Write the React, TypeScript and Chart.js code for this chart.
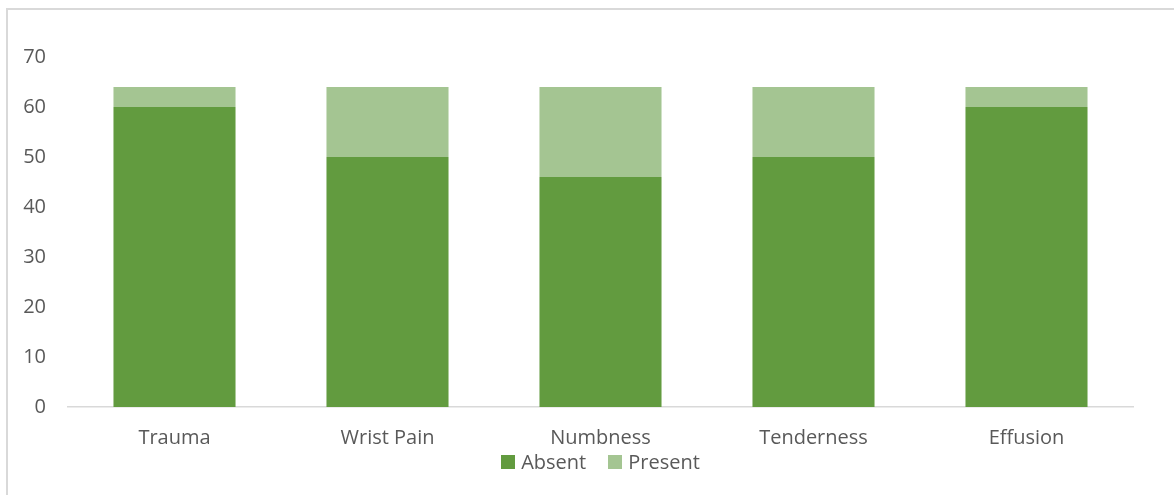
import React, { useEffect, useRef } from "react";
import { Chart, registerables } from "chart.js";

Chart.register(...registerables);

const categories = ["Trauma", "Wrist Pain", "Numbness", "Tenderness", "Effusion"];
const absentValues = [60, 50, 46, 50, 60];
const presentValues = [4, 14, 18, 14, 4];
const yTicks = [0, 10, 20, 30, 40, 50, 60, 70];

const fontFamily = "'Open Sans', 'Noto Sans', sans-serif";

const bottomLegend = {
  id: "bottomLegend",
  afterDraw(chart: any) {
    const { ctx, chartArea } = chart;
    const datasets = chart.data.datasets;
    ctx.save();
    ctx.font = `20px ${fontFamily}`;
    ctx.textBaseline = "middle";
    ctx.textAlign = "left";
    const box = 14;
    const gapText = 6;
    const gapItem = 22;
    const widths = datasets.map((d: any) => ctx.measureText(d.label).width);
    let total = 0;
    widths.forEach((w: number, i: number) => {
      total += box + gapText + w + (i < widths.length - 1 ? gapItem : 0);
    });
    let x = (chartArea.left + chartArea.right) / 2 - total / 2;
    const cy = chartArea.bottom + 55;
    datasets.forEach((d: any, i: number) => {
      ctx.fillStyle = d.backgroundColor;
      ctx.fillRect(Math.round(x), Math.round(cy - box / 2), box, box);
      x += box + gapText;
      ctx.fillStyle = "#595959";
      ctx.fillText(d.label, x, cy + 1);
      x += widths[i] + gapItem;
    });
    ctx.restore();
  },
};

export default function App() {
  const ref = useRef<HTMLCanvasElement | null>(null);

  useEffect(() => {
    document.body.style.margin = "0";
    const ctx = ref.current;
    if (!ctx) return;
    const chart = new Chart(ctx, {
      type: "bar",
      data: {
        labels: categories,
        datasets: [
          {
            label: "Absent",
            data: absentValues,
            backgroundColor: "#629B3F",
            borderWidth: 0,
          },
          {
            label: "Present",
            data: presentValues,
            backgroundColor: "#A4C592",
            borderWidth: 0,
          },
        ],
      },
      plugins: [bottomLegend],
      options: {
        responsive: false,
        animation: false,
        devicePixelRatio: 1,
        layout: { padding: { top: 57, right: 41, left: 0, bottom: 26 } },
        datasets: { bar: { categoryPercentage: 1, barPercentage: 0.573 } },
        plugins: {
          legend: { display: false },
          tooltip: { enabled: false },
        },
        scales: {
          x: {
            stacked: true,
            grid: { display: false, drawTicks: false },
            border: { display: true, color: "#D9D9D9", width: 1.5 },
            ticks: {
              color: "#595959",
              padding: 19,
              font: { family: fontFamily, size: 20 },
            },
          },
          y: {
            stacked: true,
            min: 0,
            max: 70,
            afterFit: (scale: any) => {
              scale.width = 68;
            },
            afterBuildTicks: (scale: any) => {
              scale.ticks = yTicks.map((v) => ({ value: v }));
            },
            grid: { display: false, drawTicks: false },
            border: { display: false },
            ticks: {
              color: "#595959",
              padding: 22,
              font: { family: fontFamily, size: 20 },
            },
          },
        },
      },
    });
    return () => chart.destroy();
  }, []);

  return (
    <div style={{ position: "relative", width: 1174, height: 495, overflow: "hidden", background: "#fff" }}>
      <div
        style={{
          position: "absolute",
          left: 6,
          top: 8,
          width: 1300,
          height: 600,
          borderLeft: "2px solid #D9D9D9",
          borderTop: "2px solid #D9D9D9",
        }}
      />
      <canvas ref={ref} width={1174} height={495} style={{ position: "absolute", left: 0, top: 0 }} />
    </div>
  );
}
